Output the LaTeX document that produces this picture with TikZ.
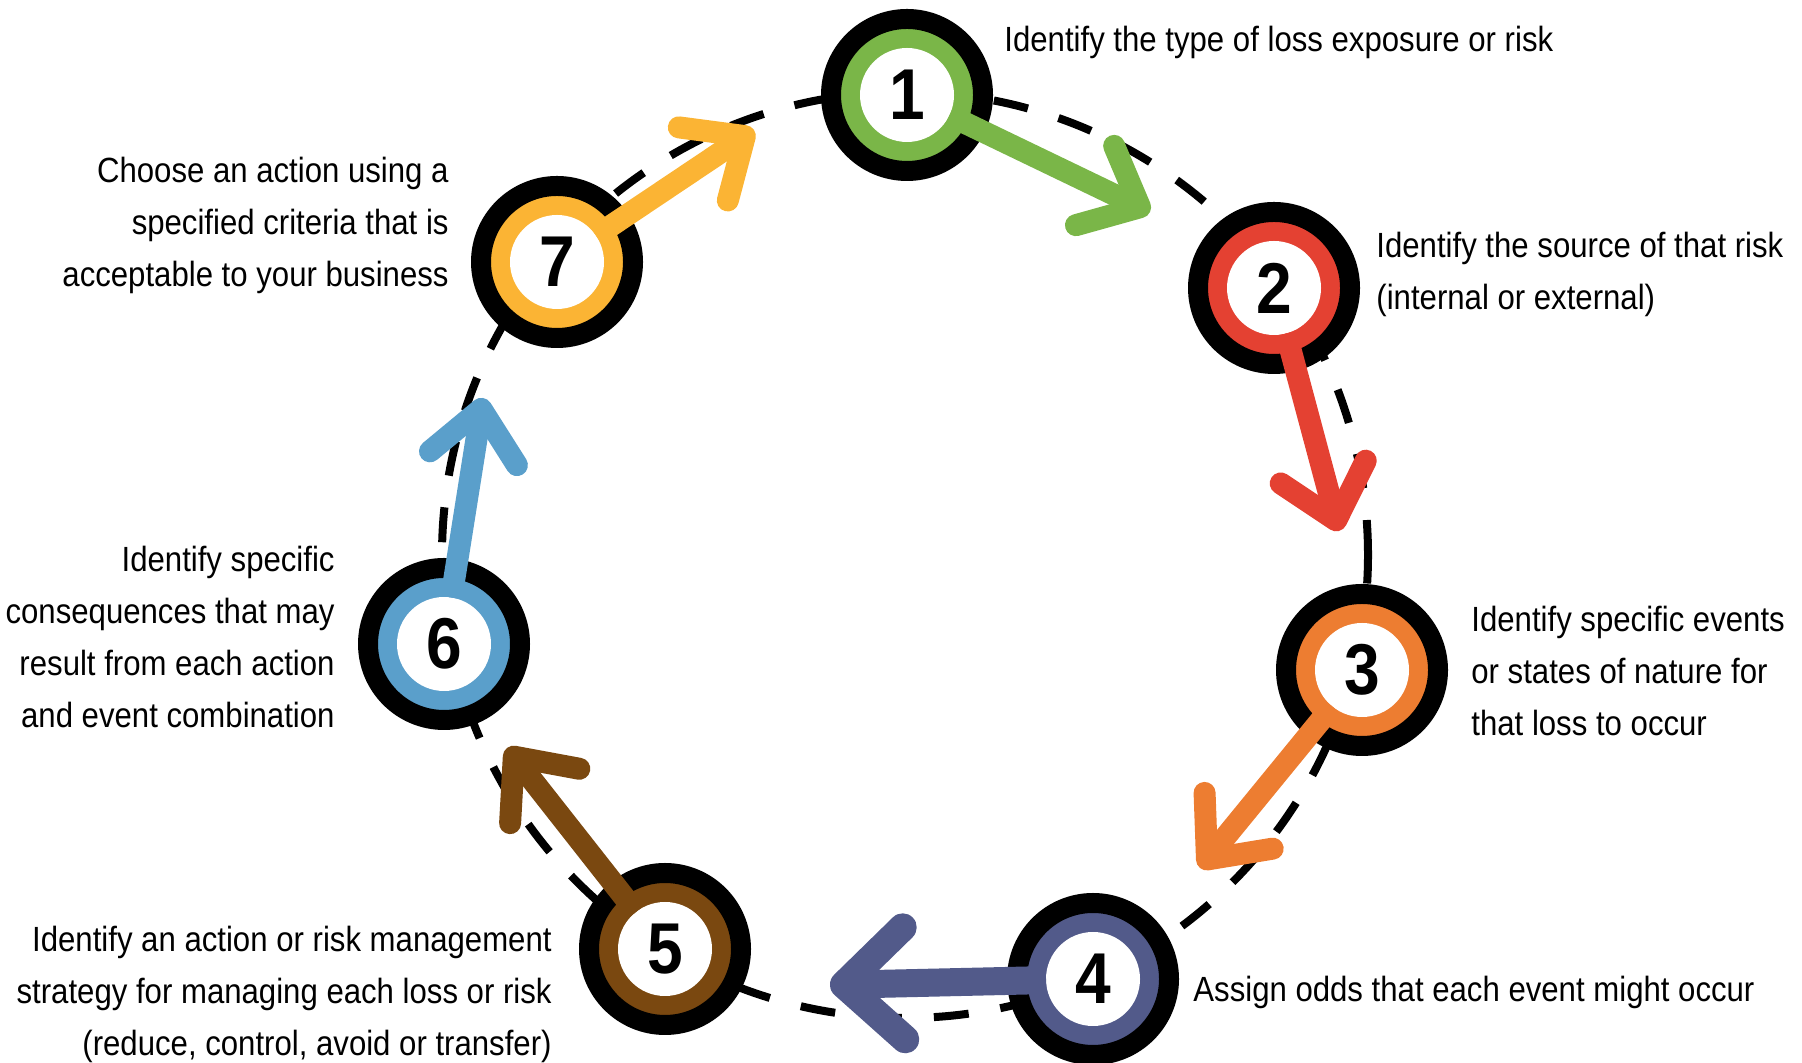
\documentclass[tikz,border=0pt]{standalone}
\usepackage{fontspec}
\setmainfont{Liberation Sans}[FakeStretch=0.89]
\usetikzlibrary{arrows.meta}

\definecolor{stepgreen}{RGB}{122,182,72}
\definecolor{stepred}{RGB}{228,65,50}
\definecolor{steporange}{RGB}{237,125,49}
\definecolor{stepnavy}{RGB}{82,90,138}
\definecolor{stepbrown}{RGB}{122,72,16}
\definecolor{stepblue}{RGB}{90,159,203}
\definecolor{stepyellow}{RGB}{251,180,52}

\begin{document}
\begin{tikzpicture}[x=0.5pt, y=0.5pt,
  ring/.style={circle, draw=black, line width=10pt, minimum size=76pt, inner sep=0pt},
  num/.style={circle, fill=white, minimum size=47pt, inner sep=0pt, outer sep=0pt, font=\fontsize{36pt}{36pt}\selectfont\bfseries},
  arrow/.style={line width=11pt, -{Straight Barb[round, length=25pt, width=44pt]}},
  wide arrow/.style={line width=14pt, -{Straight Barb[round, length=30pt, width=56pt]}},
  note/.style={inner sep=0pt, font=\fontsize{17.5pt}{26pt}\selectfont}
]
  \useasboundingbox (0,0) rectangle (1802,1063);

  % dashed cycle
  \draw[line width=4pt, dash pattern=on 17.5pt off 16pt] (905,508) circle[radius=231.5pt];

  % step rings
  \node[ring, fill=stepgreen] (s1) at (907,968) {};
  \node[ring, fill=stepred] (s2) at (1274,775) {};
  \node[ring, fill=steporange] (s3) at (1362,393) {};
  \node[ring, fill=stepnavy] (s4) at (1093,84) {};
  \node[ring, fill=stepbrown] (s5) at (665,114) {};
  \node[ring, fill=stepblue] (s6) at (444,419) {};
  \node[ring, fill=stepyellow] (s7) at (557,801) {};

  \node[num] (n1) at (s1) {1};
  \node[num] (n2) at (s2) {2};
  \node[num] (n3) at (s3) {3};
  \node[num] (n4) at (s4) {4};
  \node[num] (n5) at (s5) {5};
  \node[num] (n6) at (s6) {6};
  \node[num] (n7) at (s7) {7};

  % arrow tips
  \coordinate (t1) at (1150,851);
  \coordinate (t2) at (1339,532);
  \coordinate (t3) at (1200,195);
  \coordinate (t4) at (830,78);
  \coordinate (t5) at (507,315);
  \coordinate (t6) at (483,665);
  \coordinate (t7) at (754,933);

  \draw[arrow, stepgreen] (n1) -- (t1);
  \draw[arrow, stepred] (n2) -- (t2);
  \draw[arrow, steporange] (n3) -- (t3);
  \draw[wide arrow, stepnavy] (n4) -- (t4);
  \draw[arrow, stepbrown] (n5) -- (t5);
  \draw[arrow, stepblue] (n6) -- (t6);
  \draw[arrow, stepyellow] (n7) -- (t7);

  % descriptions
  \node[note, anchor=base west] (d1) at (1004,1011) {Identify the type of loss exposure or risk};
  \node[note, anchor=north west, align=left] (d2) at (1376,831) {Identify the source of that risk\\(internal or external)};
  \node[note, anchor=north west, align=left] (d3) at (1471,457) {Identify specific events\\or states of nature for\\that loss to occur};
  \node[note, anchor=base west] (d4) at (1193,61) {Assign odds that each event might occur};
  \node[note, anchor=north east, align=right] (d5) at (552,137) {Identify an action or risk management\\strategy for managing each loss or risk\\(reduce, control, avoid or transfer)};
  \node[note, anchor=north east, align=right] (d6) at (335,517) {Identify specific\\consequences that may\\result from each action\\and event combination};
  \node[note, anchor=north east, align=right] (d7) at (449,906) {Choose an action using a\\specified criteria that is\\acceptable to your business};
\end{tikzpicture}
\end{document}
